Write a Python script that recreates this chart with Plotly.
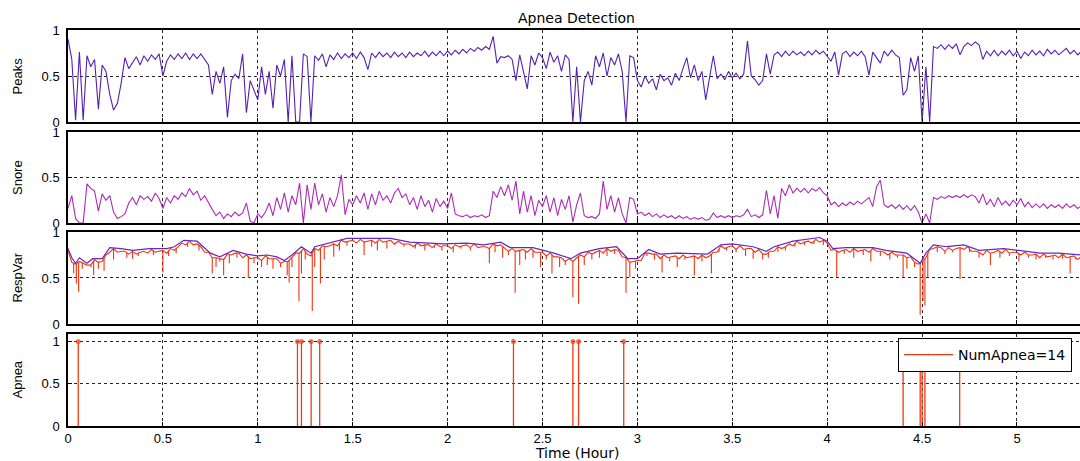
import numpy as np
import plotly.graph_objects as go

# Sampling interval of the per-epoch features (hours)
STEP_H = 0.02

# Peaks feature, one value per 0.02 h
peaks = [
    0.90, 0.68, 0.02, 0.76, 0.02,
    0.72, 0.60, 0.68, 0.14, 0.62,
    0.55, 0.30, 0.13, 0.20, 0.42,
    0.70, 0.58, 0.65, 0.71, 0.62,
    0.72, 0.66, 0.73, 0.68, 0.74,
    0.50, 0.66, 0.73, 0.68, 0.74,
    0.69, 0.75, 0.68, 0.74, 0.69,
    0.74, 0.68, 0.62, 0.30, 0.55,
    0.42, 0.60, 0.05, 0.45, 0.52,
    0.47, 0.74, 0.10, 0.45, 0.35,
    0.24, 0.60, 0.30, 0.55, 0.15,
    0.62, 0.50, 0.68, 0.00, 0.72,
    0.00, 0.00, 0.74, 0.71, 0.00,
    0.72, 0.67, 0.74, 0.60, 0.73,
    0.68, 0.75, 0.69, 0.74, 0.70,
    0.75, 0.69, 0.76, 0.70, 0.57,
    0.75, 0.70, 0.76, 0.71, 0.75,
    0.70, 0.76, 0.71, 0.75, 0.70,
    0.76, 0.71, 0.75, 0.72, 0.77,
    0.71, 0.76, 0.72, 0.77, 0.72,
    0.77, 0.73, 0.78, 0.74, 0.79,
    0.75, 0.80, 0.77, 0.81, 0.78,
    0.82, 0.79, 0.93, 0.64, 0.71,
    0.70, 0.72, 0.68, 0.45, 0.73,
    0.55, 0.36, 0.72, 0.62, 0.75,
    0.70, 0.58, 0.76, 0.65, 0.72,
    0.55, 0.73, 0.68, 0.00, 0.60,
    0.00, 0.45, 0.55, 0.40, 0.72,
    0.60, 0.75, 0.50, 0.70, 0.62,
    0.74, 0.55, 0.00, 0.72, 0.70,
    0.45, 0.38, 0.50, 0.42, 0.47,
    0.35, 0.52, 0.45, 0.48, 0.40,
    0.53, 0.45, 0.58, 0.70, 0.48,
    0.62, 0.45, 0.55, 0.24, 0.50,
    0.72, 0.47, 0.52, 0.46, 0.55,
    0.48, 0.53, 0.47, 0.52, 0.88,
    0.50, 0.46, 0.40, 0.45, 0.74,
    0.52, 0.73, 0.76, 0.71, 0.77,
    0.72, 0.77, 0.73, 0.76, 0.72,
    0.77, 0.73, 0.78, 0.74, 0.77,
    0.72, 0.66, 0.76, 0.51, 0.74,
    0.77, 0.71, 0.76, 0.72, 0.77,
    0.71, 0.51, 0.76, 0.70, 0.64,
    0.77, 0.72, 0.78, 0.73, 0.70,
    0.29, 0.35, 0.70, 0.55, 0.72,
    0.00, 0.60, 0.00, 0.82, 0.80,
    0.84, 0.79, 0.84, 0.80, 0.85,
    0.73, 0.82, 0.86, 0.83, 0.87,
    0.84, 0.68, 0.77, 0.72, 0.78,
    0.72, 0.77, 0.73, 0.78, 0.72,
    0.77, 0.69, 0.76, 0.72, 0.78,
    0.73, 0.77, 0.72, 0.79, 0.74,
    0.78, 0.73, 0.77, 0.80, 0.74,
    0.78, 0.73, 0.77,
]

# Snore feature, one value per 0.02 h
snore = [
    0.16, 0.30, 0.05, 0.00, 0.00,
    0.43, 0.38, 0.35, 0.13, 0.32,
    0.25, 0.30, 0.12, 0.05, 0.07,
    0.10, 0.22, 0.28, 0.20, 0.30,
    0.26, 0.29, 0.24, 0.33, 0.27,
    0.16, 0.28, 0.22, 0.30, 0.26,
    0.33, 0.29, 0.38, 0.31, 0.35,
    0.25, 0.30, 0.22, 0.15, 0.08,
    0.12, 0.05, 0.10, 0.07, 0.12,
    0.08, 0.11, 0.22, 0.02, 0.00,
    0.10, 0.06, 0.12, 0.22, 0.08,
    0.28, 0.15, 0.33, 0.12, 0.30,
    0.20, 0.44, 0.00, 0.42, 0.15,
    0.44, 0.20, 0.32, 0.12, 0.28,
    0.18, 0.30, 0.53, 0.09, 0.26,
    0.20, 0.30, 0.22, 0.33, 0.15,
    0.32, 0.20, 0.35, 0.25, 0.30,
    0.22, 0.33, 0.38, 0.28, 0.32,
    0.20, 0.28, 0.15, 0.30, 0.18,
    0.25, 0.12, 0.27, 0.18, 0.24,
    0.16, 0.33, 0.10, 0.08, 0.07,
    0.09, 0.06, 0.08, 0.07, 0.09,
    0.06, 0.08, 0.35, 0.28, 0.40,
    0.30, 0.42, 0.25, 0.46, 0.10,
    0.35, 0.12, 0.30, 0.08, 0.25,
    0.18, 0.30, 0.12, 0.28, 0.08,
    0.26, 0.15, 0.30, 0.01, 0.20,
    0.33, 0.08, 0.06, 0.07, 0.05,
    0.10, 0.46, 0.15, 0.30, 0.12,
    0.28, 0.10, 0.00, 0.28, 0.26,
    0.10, 0.12, 0.08, 0.11, 0.07,
    0.10, 0.06, 0.09, 0.06, 0.08,
    0.05, 0.08, 0.05, 0.07, 0.04,
    0.06, 0.04, 0.06, 0.03, 0.04,
    0.11, 0.06, 0.08, 0.06, 0.08,
    0.06, 0.08, 0.07, 0.09, 0.15,
    0.07, 0.09, 0.06, 0.09, 0.36,
    0.10, 0.30, 0.05, 0.38, 0.30,
    0.42, 0.33, 0.38, 0.34, 0.38,
    0.33, 0.38, 0.35, 0.39, 0.33,
    0.30, 0.20, 0.23, 0.18, 0.22,
    0.19, 0.23, 0.20, 0.24, 0.21,
    0.25, 0.28, 0.18, 0.40, 0.47,
    0.20, 0.17, 0.20, 0.16, 0.20,
    0.15, 0.19, 0.14, 0.19, 0.12,
    0.00, 0.10, 0.00, 0.28, 0.26,
    0.29, 0.27, 0.30, 0.28, 0.30,
    0.28, 0.31, 0.28, 0.31, 0.29,
    0.22, 0.32, 0.20, 0.26, 0.18,
    0.28, 0.20, 0.24, 0.19, 0.25,
    0.20, 0.27, 0.18, 0.23, 0.17,
    0.21, 0.17, 0.21, 0.16, 0.20,
    0.17, 0.20, 0.16, 0.21, 0.17,
    0.20, 0.16, 0.19,
]

# Respiratory variability, one value per 0.02 h
resp_var = [
    0.80, 0.67, 0.65, 0.68, 0.66,
    0.64, 0.64, 0.70, 0.67, 0.68,
    0.75, 0.78, 0.82, 0.78, 0.79,
    0.79, 0.76, 0.79, 0.76, 0.78,
    0.79, 0.77, 0.81, 0.78, 0.79,
    0.80, 0.77, 0.82, 0.80, 0.84,
    0.88, 0.86, 0.90, 0.86, 0.87,
    0.84, 0.78, 0.78, 0.72, 0.72,
    0.71, 0.70, 0.76, 0.75, 0.77,
    0.77, 0.72, 0.75, 0.71, 0.72,
    0.72, 0.69, 0.74, 0.71, 0.71,
    0.71, 0.66, 0.68, 0.68, 0.72,
    0.77, 0.77, 0.82, 0.76, 0.74,
    0.82, 0.80, 0.85, 0.84, 0.85,
    0.87, 0.85, 0.91, 0.89, 0.90,
    0.91, 0.88, 0.92, 0.89, 0.90,
    0.91, 0.88, 0.92, 0.89, 0.90,
    0.91, 0.87, 0.90, 0.87, 0.87,
    0.87, 0.84, 0.88, 0.85, 0.86,
    0.86, 0.83, 0.87, 0.84, 0.85,
    0.85, 0.82, 0.86, 0.84, 0.85,
    0.86, 0.83, 0.87, 0.83, 0.84,
    0.84, 0.82, 0.87, 0.85, 0.86,
    0.83, 0.79, 0.82, 0.79, 0.80,
    0.81, 0.78, 0.82, 0.78, 0.78,
    0.78, 0.74, 0.77, 0.73, 0.73,
    0.72, 0.68, 0.71, 0.68, 0.72,
    0.75, 0.73, 0.78, 0.76, 0.78,
    0.80, 0.77, 0.82, 0.79, 0.81,
    0.80, 0.73, 0.72, 0.67, 0.68,
    0.69, 0.69, 0.77, 0.77, 0.76,
    0.76, 0.71, 0.75, 0.72, 0.73,
    0.74, 0.71, 0.75, 0.72, 0.73,
    0.74, 0.71, 0.75, 0.72, 0.74,
    0.78, 0.78, 0.85, 0.82, 0.84,
    0.85, 0.81, 0.85, 0.81, 0.82,
    0.82, 0.78, 0.81, 0.76, 0.76,
    0.79, 0.79, 0.84, 0.82, 0.84,
    0.87, 0.85, 0.90, 0.87, 0.89,
    0.90, 0.88, 0.92, 0.89, 0.91,
    0.88, 0.80, 0.81, 0.78, 0.80,
    0.81, 0.78, 0.82, 0.79, 0.80,
    0.81, 0.78, 0.82, 0.79, 0.79,
    0.78, 0.75, 0.78, 0.75, 0.75,
    0.75, 0.72, 0.73, 0.67, 0.65,
    0.68, 0.72, 0.81, 0.82, 0.84,
    0.83, 0.79, 0.83, 0.80, 0.82,
    0.83, 0.81, 0.84, 0.79, 0.79,
    0.78, 0.75, 0.80, 0.77, 0.78,
    0.80, 0.77, 0.81, 0.77, 0.78,
    0.78, 0.75, 0.78, 0.75, 0.75,
    0.76, 0.72, 0.76, 0.73, 0.74,
    0.75, 0.72, 0.76, 0.72, 0.73,
    0.74, 0.70, 0.74,
]

# Short drops of the respiratory variability (hour, value)
resp_dip_t = [
    0.030, 0.044, 0.056, 0.075, 0.120, 0.135, 0.160, 0.190, 0.240, 0.310,
    0.340, 0.370, 0.450, 0.500, 0.530, 0.570, 0.630, 0.690, 0.760, 0.780,
    0.800, 0.820, 0.850, 0.890, 0.950, 0.980, 1.020, 1.050, 1.080, 1.120,
    1.155, 1.165, 1.180, 1.217, 1.230, 1.250, 1.287, 1.300, 1.330, 1.350,
    1.400, 1.430, 1.470, 1.560, 1.600, 1.630, 1.680, 1.720, 1.770, 1.830,
    1.880, 1.930, 1.970, 2.030, 2.070, 2.120, 2.160, 2.220, 2.250, 2.290,
    2.320, 2.356, 2.380, 2.410, 2.450, 2.490, 2.520, 2.550, 2.590, 2.620,
    2.660, 2.690, 2.720, 2.760, 2.800, 2.840, 2.880, 2.940, 2.960, 2.990,
    3.050, 3.090, 3.130, 3.170, 3.210, 3.250, 3.300, 3.340, 3.390, 3.430,
    3.470, 3.520, 3.570, 3.610, 3.660, 3.690, 3.740, 3.780, 3.830, 3.880,
    3.930, 3.980, 4.050, 4.090, 4.140, 4.190, 4.230, 4.280, 4.330, 4.370,
    4.400, 4.420, 4.460, 4.490, 4.505, 4.515, 4.530, 4.580, 4.620, 4.660,
    4.700, 4.750, 4.800, 4.860, 4.910, 4.960, 5.010, 5.060, 5.100, 5.150,
    5.190, 5.240, 5.280, 5.310,
]
resp_dip_v = [
    0.55, 0.44, 0.35, 0.60, 0.62, 0.53, 0.60, 0.58, 0.70, 0.72,
    0.71, 0.74, 0.75, 0.56, 0.74, 0.77, 0.84, 0.80, 0.55, 0.62,
    0.68, 0.53, 0.66, 0.72, 0.50, 0.66, 0.62, 0.64, 0.60, 0.62,
    0.53, 0.45, 0.62, 0.25, 0.55, 0.70, 0.14, 0.62, 0.44, 0.70,
    0.73, 0.80, 0.85, 0.75, 0.84, 0.80, 0.82, 0.86, 0.84, 0.82,
    0.80, 0.83, 0.80, 0.78, 0.82, 0.80, 0.83, 0.66, 0.78, 0.72,
    0.75, 0.34, 0.64, 0.70, 0.72, 0.62, 0.70, 0.55, 0.62, 0.64,
    0.29, 0.22, 0.64, 0.70, 0.72, 0.74, 0.76, 0.34, 0.51, 0.60,
    0.74, 0.70, 0.56, 0.68, 0.62, 0.70, 0.53, 0.68, 0.55, 0.78,
    0.80, 0.78, 0.74, 0.71, 0.70, 0.72, 0.78, 0.80, 0.84, 0.86,
    0.87, 0.86, 0.51, 0.76, 0.72, 0.75, 0.68, 0.74, 0.70, 0.72,
    0.51, 0.60, 0.62, 0.10, 0.25, 0.20, 0.51, 0.78, 0.76, 0.78,
    0.49, 0.78, 0.72, 0.64, 0.72, 0.74, 0.68, 0.72, 0.70, 0.72,
    0.70, 0.71, 0.55, 0.70,
]

# Upper envelope of the respiratory variability (hour, value)
resp_env_t = [
    0.00, 0.02, 0.04, 0.06, 0.10, 0.13, 0.18, 0.22, 0.28, 0.34,
    0.43, 0.52, 0.56, 0.61, 0.68, 0.75, 0.80, 0.87, 0.94, 1.00,
    1.05, 1.10, 1.14, 1.18, 1.23, 1.28, 1.30, 1.37, 1.47, 1.54,
    1.70, 1.80, 1.98, 2.10, 2.19, 2.28, 2.33, 2.45, 2.56, 2.65,
    2.70, 2.80, 2.89, 2.95, 3.00, 3.06, 3.12, 3.21, 3.37, 3.44,
    3.50, 3.61, 3.68, 3.72, 3.82, 3.96, 4.00, 4.03, 4.10, 4.24,
    4.31, 4.42, 4.49, 4.52, 4.56, 4.63, 4.72, 4.80, 4.93, 5.01,
    5.12, 5.22, 5.34,
]
resp_env = [
    0.82, 0.72, 0.66, 0.72, 0.66, 0.71, 0.71, 0.83, 0.82, 0.80,
    0.82, 0.82, 0.84, 0.91, 0.90, 0.77, 0.73, 0.80, 0.76, 0.74,
    0.75, 0.73, 0.69, 0.75, 0.84, 0.77, 0.84, 0.88, 0.93, 0.93,
    0.93, 0.89, 0.87, 0.88, 0.86, 0.89, 0.83, 0.83, 0.77, 0.71,
    0.77, 0.82, 0.84, 0.71, 0.71, 0.81, 0.76, 0.77, 0.76, 0.86,
    0.87, 0.84, 0.79, 0.84, 0.90, 0.94, 0.90, 0.82, 0.83, 0.83,
    0.80, 0.77, 0.66, 0.77, 0.86, 0.84, 0.86, 0.80, 0.82, 0.80,
    0.77, 0.77, 0.75,
]

# Detected apnea events (hour)
apnea_times = [0.054, 1.209, 1.230, 1.281, 1.326, 2.347, 2.660, 2.690,
               2.928, 4.400, 4.490, 4.500, 4.515, 4.698]

X_MAX = 5.332
FONT = "Liberation Sans, Arial, Helvetica, sans-serif"
WIDE_FONT = "DejaVu Sans, Verdana, sans-serif"

C_PEAKS = "rgb(88,32,176)"
C_SNORE = "rgb(172,44,184)"
C_RESP = "rgb(240,52,12)"
C_ENV = "rgb(100,40,196)"
C_APNEA = "rgb(240,58,20)"


def hours(series):
    return np.round(np.arange(len(series)) * STEP_H, 3)


fig = go.Figure()

fig.add_trace(go.Scatter(x=hours(peaks), y=peaks, mode="lines",
                         line=dict(color=C_PEAKS, width=1.1),
                         showlegend=False, xaxis="x", yaxis="y"))
fig.add_trace(go.Scatter(x=hours(snore), y=snore, mode="lines",
                         line=dict(color=C_SNORE, width=1.1),
                         showlegend=False, xaxis="x2", yaxis="y2"))

# Respiratory variability: base trace plus its short drops as thin spikes
resp_h = hours(resp_var)
fig.add_trace(go.Scatter(x=resp_h, y=resp_var, mode="lines",
                         line=dict(color=C_RESP, width=1.1),
                         showlegend=False, xaxis="x3", yaxis="y3"))
dip_x, dip_y = [], []
for t, v in zip(resp_dip_t, resp_dip_v):
    dip_x += [t, t, None]
    dip_y += [float(np.interp(t, resp_h, resp_var)), v, None]
fig.add_trace(go.Scatter(x=dip_x, y=dip_y, mode="lines",
                         line=dict(color=C_RESP, width=1.1),
                         showlegend=False, xaxis="x3", yaxis="y3"))
fig.add_trace(go.Scatter(x=resp_env_t, y=resp_env, mode="lines",
                         line=dict(color=C_ENV, width=1.2),
                         showlegend=False, xaxis="x3", yaxis="y3"))

# Stem plot of the apnea events
stem_x, stem_y, stem_size = [], [], []
for t in apnea_times:
    stem_x += [t, t, None]
    stem_y += [0, 1, None]
    stem_size += [0, 5, 0]
fig.add_trace(go.Scatter(
    x=stem_x, y=stem_y, mode="lines+markers",
    line=dict(color=C_APNEA, width=1.3),
    marker=dict(color=C_APNEA, size=stem_size, line=dict(width=0)),
    name=f"NumApnea={len(apnea_times)}",
    showlegend=True, xaxis="x4", yaxis="y4"))

# Panel placement (paper fractions of the plotting region)
domains = [(0.7677, 1.0), (0.5126, 0.7424), (0.2576, 0.4899), (0.0, 0.2323)]
y_ranges = [[0, 1], [0, 1], [0, 1], [0, 1.09]]
y_labels = ["Peaks", "Snore", "RespVar", "Apnea"]

grid = dict(showgrid=True, gridcolor="rgba(0,0,0,0.85)", gridwidth=1,
            griddash="3px,3px")
axis_line = dict(showline=True, linecolor="black", linewidth=1.5,
                 ticks="inside", ticklen=4, tickcolor="black", tickwidth=1,
                 zeroline=False,
                 tickfont=dict(family=FONT, size=13, color="black"))

layout = dict(
    width=1080, height=461,
    margin=dict(l=68, r=0, t=30, b=35),
    paper_bgcolor="white", plot_bgcolor="white",
    showlegend=True,
    legend=dict(x=(898 - 68) / 1012, y=(426 - 338) / 396,
                xanchor="left", yanchor="top",
                bgcolor="white", bordercolor="black", borderwidth=1,
                font=dict(family=WIDE_FONT, size=14, color="black"),
                itemwidth=49),
)

for i, (dom, yr) in enumerate(zip(domains, y_ranges), start=1):
    sfx = "" if i == 1 else str(i)
    layout[f"xaxis{sfx}"] = dict(
        domain=[0, 1], range=[0, X_MAX], anchor=f"y{sfx}",
        dtick=0.5, tick0=0, mirror=True,
        showticklabels=(i == 4),
        **grid, **axis_line)
    if i > 1:
        layout[f"xaxis{sfx}"]["matches"] = "x"
    layout[f"yaxis{sfx}"] = dict(
        domain=list(dom), range=yr, anchor=f"x{sfx}",
        tickvals=[0, 0.5, 1], ticktext=["0", "0.5", "1"],
        ticklabelstandoff=4,
        **grid, **axis_line)

annotations = [
    dict(text="Apnea Detection", x=0.502, y=(426 - 18) / 396,
         xref="paper", yref="paper", showarrow=False,
         xanchor="center", yanchor="middle",
         font=dict(family=WIDE_FONT, size=14, color="black")),
    dict(text="Time (Hour)", x=(577 - 68) / 1012, y=(426 - 453) / 396,
         xref="paper", yref="paper", showarrow=False,
         xanchor="center", yanchor="middle",
         font=dict(family=WIDE_FONT, size=14, color="black")),
]
for dom, lab in zip(domains, y_labels):
    annotations.append(dict(
        text=lab, x=(17.5 - 68) / 1012, y=(dom[0] + dom[1]) / 2,
        xref="paper", yref="paper", showarrow=False, textangle=-90,
        xanchor="center", yanchor="middle",
        font=dict(family=FONT, size=13, color="black")))
layout["annotations"] = annotations

fig.update_layout(**layout)
fig.write_html("out.html")
